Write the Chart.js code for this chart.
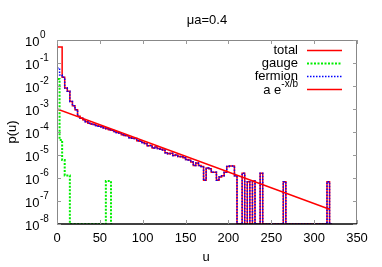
<!DOCTYPE html>
<html>
<head>
<meta charset="utf-8">
<script src="https://cdn.jsdelivr.net/npm/chart.js@4.4.0/dist/chart.umd.min.js"></script>
<style>
  html, body { margin: 0; padding: 0; background: #fff; }
</style>
</head>
<body>
<canvas id="chart" width="382" height="267"></canvas>
<script>
// histogram bins (left edges, width 3)
const BIN = 3;
const P_FLOOR = 1e-8; // empty bins sit on the bottom of the plot
const uEdges = [];
for (let u = 0; u <= 318; u += BIN) uEdges.push(u);

// first bins, which differ between total and fermion
const totalHead = [5.0e-1, 5.0e-1, 5.0e-1];
const fermionHead = [9.0e-1, 6.0e-2, 3.0e-2];

// shared tail from u = 9 to u = 210
const tailP = [
  2.4e-2, 8.1e-3, 5.9e-3, 2.1e-3, 1.4e-3, 9.3e-4, 4.8e-4, 4.0e-4, 3.4e-4, 2.8e-4,
  2.4e-4, 2.2e-4, 2.1e-4, 1.9e-4, 1.8e-4, 1.7e-4, 1.5e-4, 1.4e-4, 1.26e-4, 1.2e-4,
  1.05e-4, 9.5e-5, 9.1e-5, 7.6e-5, 7.1e-5, 6.8e-5, 5.6e-5, 5.4e-5, 5.2e-5, 4.2e-5,
  4.0e-5, 3.5e-5, 3.2e-5, 2.5e-5, 2.6e-5, 2.0e-5, 2.2e-5, 1.9e-5, 1.8e-5, 1.66e-5,
  1.26e-5, 1.12e-5, 1.2e-5, 9.5e-6, 1.0e-5, 8.7e-6, 8.3e-6, 7.6e-6, 6.3e-6, 6.0e-6,
  5.0e-6, 3.5e-6, 4.5e-6, 3.5e-6, 3.2e-6, 7.9e-7, 2.7e-6, 2.5e-6, 1.8e-6, 1.8e-6,
  7.9e-7, 1.1e-6, 1.26e-6, 1.8e-6, 3.2e-6, 3.3e-6, 3.3e-6, 1.26e-6
];

// isolated single-event bins at large u
const spikeU = [219, 225, 231, 240, 267, 318];
const spikeP = [1.6e-6, 6.9e-7, 7.4e-7, 1.6e-6, 6.9e-7, 6.9e-7];

// gauge part (bins from u = 0 to 63)
const gaugeP = [
  6.0e-1, 2.0e-2, 4.5e-5, 6.0e-6, 1.3e-6, 1.3e-6,
  0, 0, 0, 0, 0, 0, 0, 0, 0, 0, 0, 0, 0, 0,
  7.4e-7, 7.4e-7
];

// fit a e^(-x/b), end points
const fitU = [0, 318];
const fitP = [1.0e-3, 4.4e-8];

const yDecades = [0, -1, -2, -3, -4, -5, -6, -7, -8];
const xTicks = [0, 50, 100, 150, 200, 250, 300, 350];

function fullSeries(head) {
  const vals = uEdges.map(() => 0);
  head.concat(tailP).forEach((p, i) => { vals[i] = p; });
  spikeU.forEach((u, i) => { vals[uEdges.indexOf(u)] = spikeP[i]; });
  return vals;
}

function steps(edges, values) {
  const pts = [{ x: edges[0], y: P_FLOOR }];
  edges.forEach((u, i) => pts.push({ x: u, y: values[i] > 0 ? values[i] : P_FLOOR }));
  pts.push({ x: edges[edges.length - 1] + BIN, y: P_FLOOR });
  return pts;
}

const FONT = '"Liberation Sans", Arial, sans-serif';

const legendRows = [
  { label: 'total', color: '#ff0000', width: 1.5, dash: [] },
  { label: 'gauge', color: '#00ee00', width: 2, dash: [2, 1.5] },
  { label: 'fermion', color: '#0000ff', width: 1.5, dash: [1.5, 1.5] },
  { label: 'a e', sup: '-x/b', color: '#ff0000', width: 1.5, dash: [] }
];

const decorations = {
  id: 'decorations',
  afterDraw(chart) {
    const ctx = chart.ctx;
    const a = chart.chartArea;
    const xs = chart.scales.x, ys = chart.scales.y;
    ctx.save();

    // frame
    ctx.lineWidth = 1;
    ctx.strokeStyle = '#888';
    ctx.beginPath();
    ctx.moveTo(a.left + 0.5, a.bottom);
    ctx.lineTo(a.left + 0.5, a.top + 0.5);
    ctx.lineTo(a.right - 0.5, a.top + 0.5);
    ctx.lineTo(a.right - 0.5, a.bottom);
    ctx.stroke();
    ctx.strokeStyle = '#000';
    ctx.lineWidth = 1.5;
    ctx.beginPath();
    ctx.moveTo(a.left, a.bottom);
    ctx.lineTo(a.right, a.bottom);
    ctx.stroke();

    // inward ticks, mirrored
    ctx.strokeStyle = '#999';
    ctx.lineWidth = 1;
    ctx.beginPath();
    xTicks.forEach(u => {
      const px = Math.round(xs.getPixelForValue(u)) + 0.5;
      ctx.moveTo(px, a.bottom); ctx.lineTo(px, a.bottom - 4);
      ctx.moveTo(px, a.top); ctx.lineTo(px, a.top + 4);
    });
    yDecades.forEach(k => {
      const py = Math.round(ys.getPixelForValue(Math.pow(10, k))) + 0.5;
      ctx.moveTo(a.left, py); ctx.lineTo(a.left + 4, py);
      ctx.moveTo(a.right, py); ctx.lineTo(a.right - 4, py);
    });
    ctx.stroke();

    ctx.fillStyle = '#000';
    ctx.textBaseline = 'middle';

    // y tick labels 10^k
    yDecades.forEach(k => {
      const py = ys.getPixelForValue(Math.pow(10, k));
      ctx.font = '13px ' + FONT;
      ctx.textAlign = 'right';
      ctx.fillText('10', 39.5, py + 2);
      ctx.font = '10px ' + FONT;
      ctx.textAlign = 'left';
      ctx.fillText(String(k), 40, py - 5);
    });

    // x tick labels
    ctx.font = '13px ' + FONT;
    ctx.textAlign = 'center';
    xTicks.forEach(u => ctx.fillText(String(u), xs.getPixelForValue(u), 238));

    // title and axis labels
    ctx.fillText('\u03bca=0.4', 207, 20);
    ctx.fillText('u', 206, 257);
    ctx.save();
    ctx.translate(12, 132);
    ctx.rotate(-Math.PI / 2);
    ctx.fillText('p(u)', 0, 0);
    ctx.restore();

    // key
    legendRows.forEach((r, i) => {
      const y = 50 + i * 13;
      ctx.font = '13px ' + FONT;
      ctx.textAlign = 'right';
      ctx.fillStyle = '#000';
      if (r.sup) {
        ctx.font = '10px ' + FONT;
        const w = ctx.measureText(r.sup).width;
        ctx.textAlign = 'left';
        ctx.fillText(r.sup, 298 - w, y - 5);
        ctx.font = '13px ' + FONT;
        ctx.textAlign = 'right';
        ctx.fillText(r.label, 298 - w, y + 1);
      } else {
        ctx.fillText(r.label, 298, y);
      }
      ctx.strokeStyle = r.color;
      ctx.lineWidth = r.width;
      ctx.setLineDash(r.dash);
      ctx.beginPath();
      ctx.moveTo(307, y + 0.5);
      ctx.lineTo(342, y + 0.5);
      ctx.stroke();
      ctx.setLineDash([]);
    });

    ctx.restore();
  }
};

const ctx = document.getElementById('chart').getContext('2d');
new Chart(ctx, {
  type: 'line',
  data: {
    datasets: [
      {
        label: 'total',
        data: steps(uEdges, fullSeries(totalHead)),
        stepped: 'after',
        borderColor: '#ff0000',
        borderWidth: 1.5,
        pointRadius: 0,
        order: 4
      },
      {
        label: 'gauge',
        data: steps(uEdges.slice(0, gaugeP.length), gaugeP),
        stepped: 'after',
        borderColor: '#00ee00',
        borderWidth: 2,
        borderDash: [2, 1.5],
        pointRadius: 0,
        order: 3
      },
      {
        label: 'fermion',
        data: steps(uEdges, fullSeries(fermionHead)),
        stepped: 'after',
        borderColor: '#0000ff',
        borderWidth: 1.5,
        borderDash: [1.5, 1.5],
        pointRadius: 0,
        order: 2
      },
      {
        label: 'a e^-x/b',
        data: fitU.map((u, i) => ({ x: u, y: fitP[i] })),
        borderColor: '#ff0000',
        borderWidth: 1.5,
        pointRadius: 0,
        order: 1
      }
    ]
  },
  options: {
    responsive: false,
    animation: false,
    devicePixelRatio: 1,
    layout: { padding: { top: 40, right: 25, left: 0, bottom: 0 } },
    plugins: {
      legend: { display: false },
      tooltip: { enabled: false },
      title: { display: false }
    },
    scales: {
      x: {
        type: 'linear', min: 0, max: 350,
        ticks: { display: false, stepSize: 50 },
        grid: { display: false },
        border: { display: false },
        afterFit: s => { s.height = 43; }
      },
      y: {
        type: 'logarithmic', min: 1e-8, max: 1,
        ticks: { display: false },
        grid: { display: false },
        border: { display: false },
        afterFit: s => { s.width = 57; }
      }
    }
  },
  plugins: [decorations]
});
</script>
</body>
</html>
